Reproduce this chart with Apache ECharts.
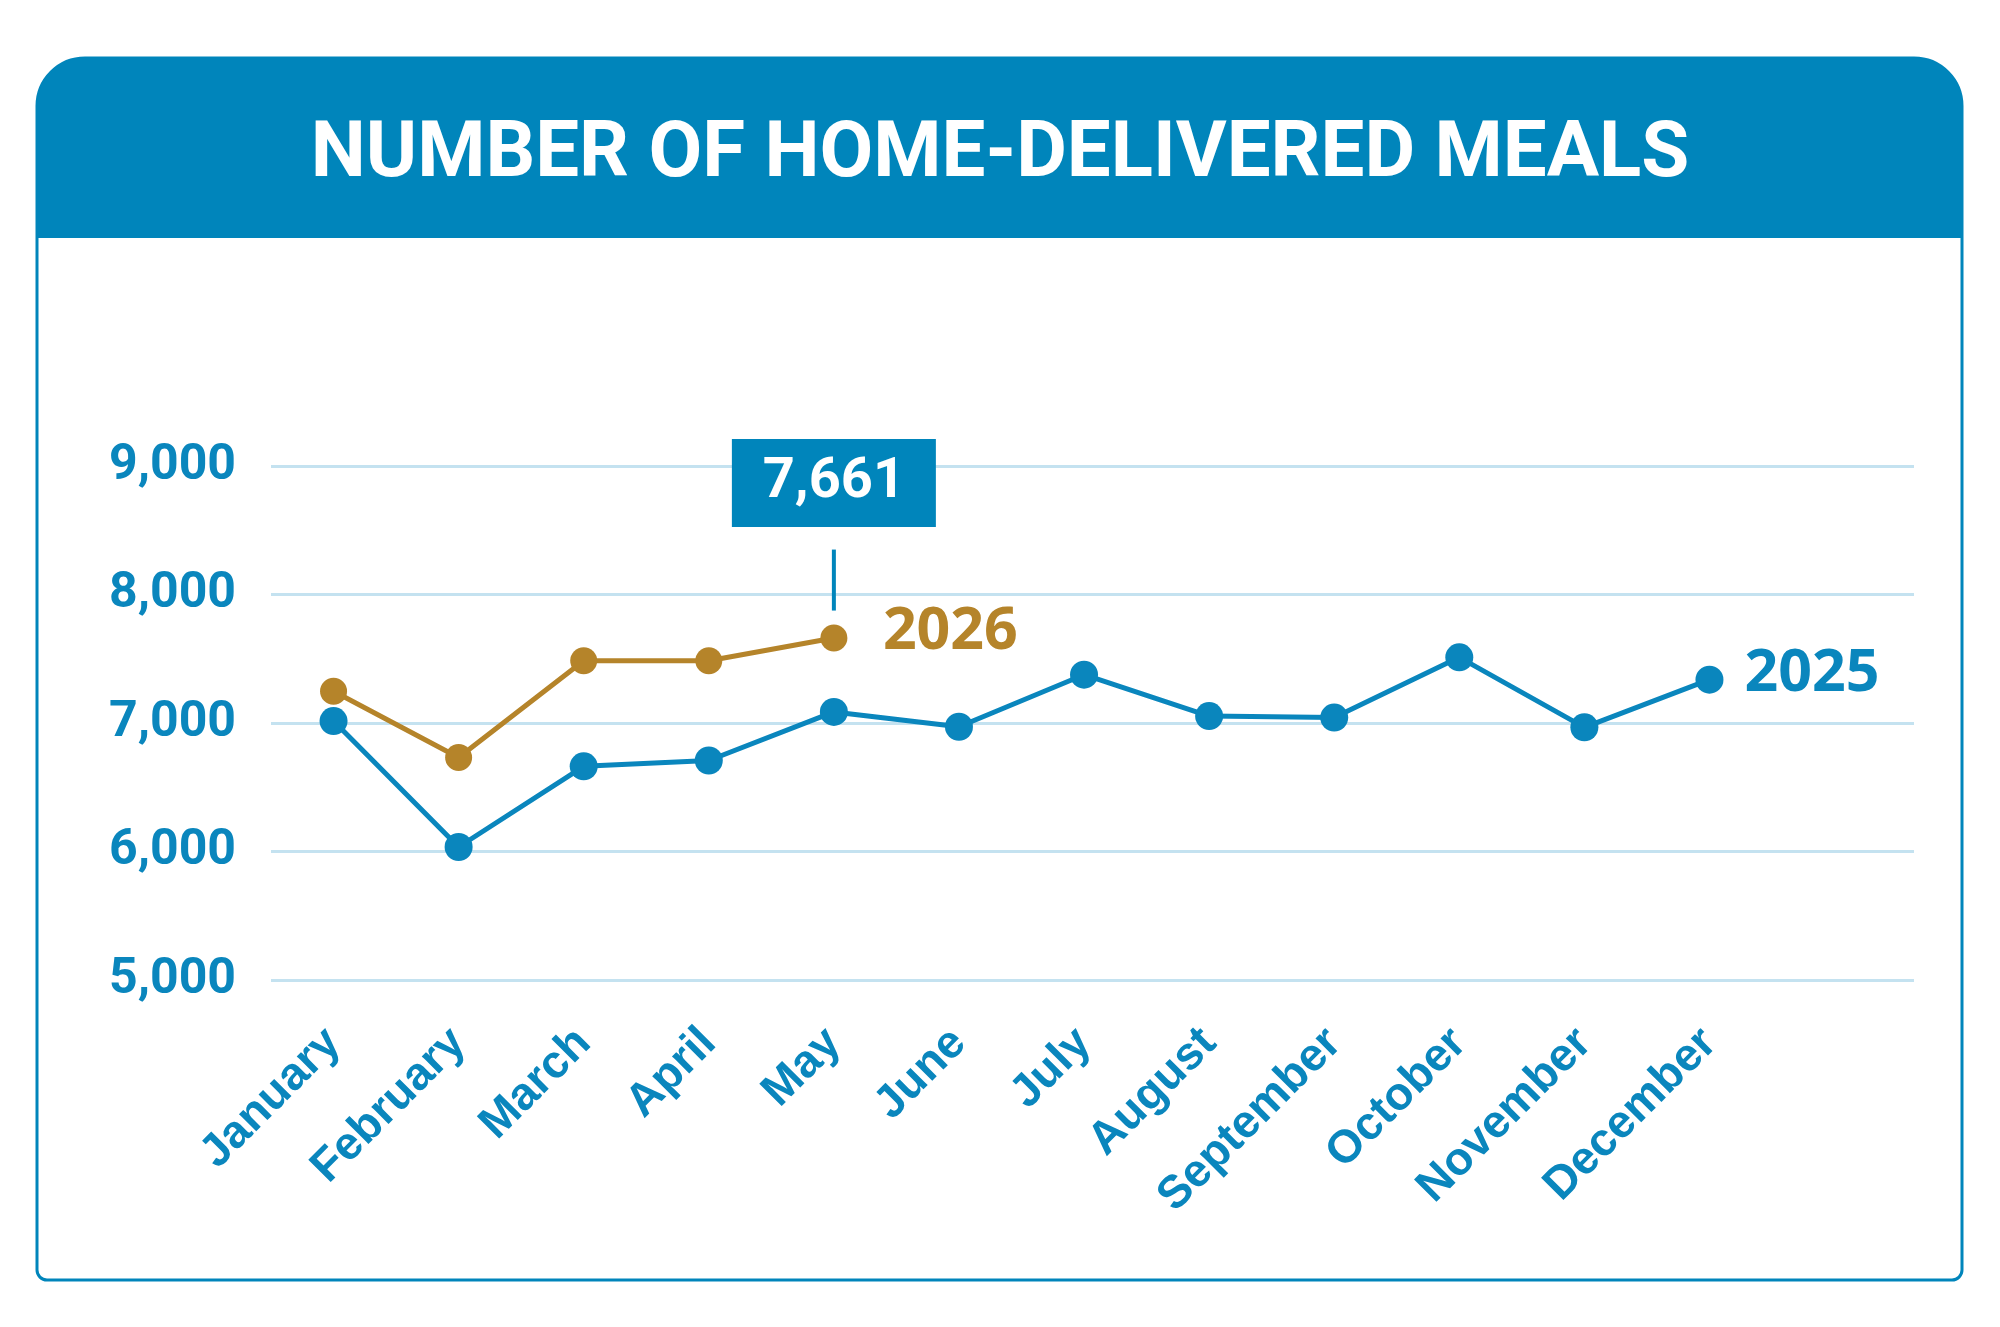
<!DOCTYPE html>
<html>
<head>
<meta charset="utf-8">
<script src="https://cdn.jsdelivr.net/npm/echarts@6/dist/echarts.min.js"></script>
<style>
  html, body { margin: 0; padding: 0; background: #fff; }
  #chart { width: 2000px; height: 1327px; }
</style>
</head>
<body>
<div id="chart"></div>
<script>
// home-delivered meals per month, 2025 full year vs 2026 so far
const months = ['January', 'February', 'March', 'April', 'May', 'June',
  'July', 'August', 'September', 'October', 'November', 'December']
const meals2025 = [7015, 6035, 6663, 6708, 7086, 6971, 7376, 7054, 7042, 7511, 6966, 7337]
const meals2026 = [7247, 6732, 7485, 7485, 7661]
const yTicks = [5000, 6000, 7000, 8000, 9000]

const BLUE = '#0A86BD'
const HEADER = '#0085BB'
const GOLD = '#B5842A'
const GRID = '#C4E2F0'

const chart = echarts.init(document.getElementById('chart'))
const lastIdx = meals2026.length - 1
const fmt = (v) => v.toLocaleString('en-US')

chart.setOption({
  animation: false,
  graphic: [
    { type: 'rect', z: -10, shape: { x: 37, y: 58, width: 1925, height: 1222, r: [48, 48, 10, 10] },
      style: { fill: '#fff', stroke: HEADER, lineWidth: 3 } },
    { type: 'rect', z: -9, shape: { x: 37, y: 58, width: 1925, height: 180, r: [48, 48, 0, 0] },
      style: { fill: HEADER } },
  ],
  title: {
    text: 'NUMBER OF HOME-DELIVERED MEALS',
    left: 'center', top: 112,
    textStyle: { color: '#fff', fontSize: 78, fontWeight: 'bold', fontFamily: 'Roboto' },
  },
  grid: [
    { left: 271, right: 228, top: 466, bottom: 347 },   // data
    { left: 271, right: 86, top: 466, bottom: 347 },    // gridlines reach past December
  ],
  xAxis: [
    {
      type: 'category', data: months, gridIndex: 0,
      axisLine: { show: false }, axisTick: { show: false },
      axisLabel: { rotate: 45, margin: 56, fontSize: 46, fontWeight: 'bold',
        fontFamily: 'Liberation Sans', color: BLUE, interval: 0 },
    },
    { type: 'value', gridIndex: 1, show: false, min: 0, max: 1 },
  ],
  yAxis: [
    {
      type: 'value', gridIndex: 0, min: yTicks[0], max: yTicks[yTicks.length - 1], interval: 1000,
      axisLine: { show: false }, axisTick: { show: false }, splitLine: { show: false },
      axisLabel: { margin: 35, fontSize: 50, fontWeight: 'bold', fontFamily: 'Roboto',
        color: BLUE, formatter: fmt },
    },
    {
      type: 'value', gridIndex: 1, min: yTicks[0], max: yTicks[yTicks.length - 1], interval: 1000,
      axisLine: { show: false }, axisTick: { show: false }, axisLabel: { show: false },
      splitLine: { lineStyle: { color: GRID, width: 3 } },
    },
  ],
  series: [
    {
      name: '2025', type: 'line', data: meals2025,
      xAxisIndex: 0, yAxisIndex: 0,
      symbol: 'circle', symbolSize: 28,
      lineStyle: { color: BLUE, width: 5 }, itemStyle: { color: BLUE },
      endLabel: { show: true, formatter: '2025', distance: 35, offset: [0, -6],
        color: BLUE, fontSize: 59, fontWeight: 'bold', fontFamily: 'Open Sans' },
    },
    {
      name: '2026', type: 'line', data: meals2026,
      xAxisIndex: 0, yAxisIndex: 0,
      symbol: 'circle', symbolSize: 27,
      lineStyle: { color: GOLD, width: 5 }, itemStyle: { color: GOLD },
      endLabel: { show: true, formatter: '2026', distance: 49, offset: [0, -6],
        color: GOLD, fontSize: 59, fontWeight: 'bold', fontFamily: 'Open Sans' },
      markPoint: {
        silent: true,
        data: [
          { coord: [lastIdx, meals2026[lastIdx]], value: meals2026[lastIdx],
            symbol: 'rect', symbolSize: [204, 88], symbolOffset: [0, -155],
            itemStyle: { color: HEADER },
            label: { show: true, position: 'inside', formatter: (p) => fmt(p.value),
              color: '#fff', fontSize: 56, fontWeight: 'bold', fontFamily: 'Roboto' } },
          { coord: [lastIdx, meals2026[lastIdx]],
            symbol: 'rect', symbolSize: [4, 61], symbolOffset: [0, -58],
            itemStyle: { color: HEADER }, label: { show: false } },
        ],
      },
    },
  ],
})
</script>
</body>
</html>
